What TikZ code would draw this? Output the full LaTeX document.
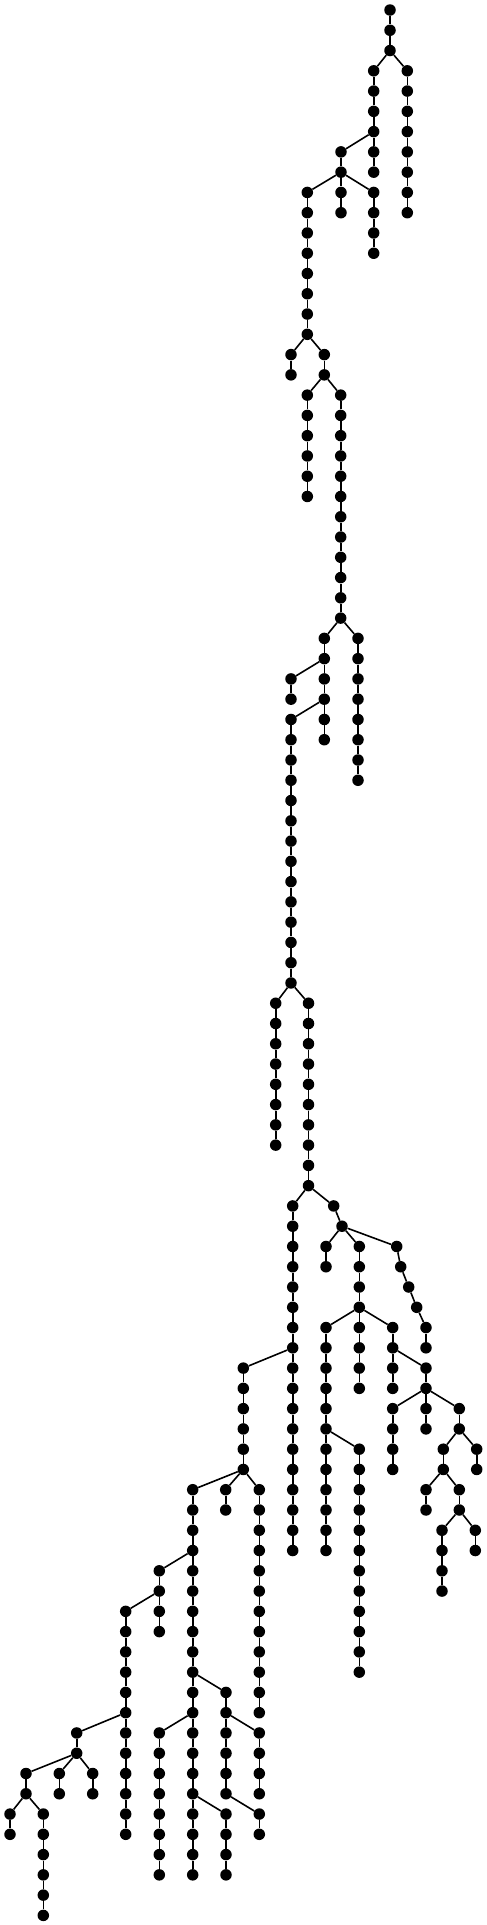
\documentclass[tikz,border=0pt]{standalone}
\usepackage{tikz}
\tikzset{
  treedot/.style={circle,fill=black,draw=none,inner sep=0pt,minimum size=11.5pt},
  treeedge/.style={line width=1.6pt,black}
}
\newcommand\mkchain[5]{%
  \foreach \l in {#3,...,#4}{\node[treedot] (#1-\l) at (#2,{-10-20.27*\l}) {};}
  \pgfmathtruncatemacro\mychs{#3+1}%
  \foreach \l [remember=\l as \lp (initially #3)] in {\mychs,...,#4}{\draw[treeedge] (#1-\lp) -- (#1-\l);}
  \ifx\relax#5\relax\else\draw[treeedge] (#5) -- (#1-#3);\fi
}
\begin{document}
\begin{tikzpicture}[x=1pt,y=1pt]
\useasboundingbox (0,0) rectangle (487,-1925);
\mkchain{A}{390}{0}{2}{}
\mkchain{B}{407.3}{3}{10}{A-2}
\mkchain{C}{373.7}{3}{8}{A-2}
\mkchain{D}{341}{7}{8}{C-6}
\mkchain{E}{307.3}{9}{16}{D-8}
\mkchain{F}{341}{9}{10}{D-8}
\mkchain{G}{373.7}{9}{12}{D-8}
\mkchain{H}{291}{17}{18}{E-16}
\mkchain{I}{324.3}{17}{18}{E-16}
\mkchain{J}{307.3}{19}{24}{I-18}
\mkchain{K}{340.7}{19}{30}{I-18}
\mkchain{L}{324.3}{31}{36}{K-30}
\mkchain{M}{358}{31}{38}{K-30}
\mkchain{N}{291}{33}{34}{L-32}
\mkchain{O}{291}{35}{48}{L-34}
\mkchain{P}{275.7}{49}{56}{O-48}
\mkchain{Q}{308.5}{49}{58}{O-48}
\mkchain{R}{292.7}{59}{76}{Q-58}
% S: short bent chain
\node[treedot] (S-59) at (333.7,{-10-20.27*59}) {};
\node[treedot] (S-60) at (342,{-10-20.27*60}) {};
\draw[treeedge] (Q-58) -- (S-59);
\draw[treeedge] (S-59) -- (S-60);
\mkchain{T}{326}{61}{62}{S-60}
\mkchain{U}{359.3}{61}{68}{S-60}
% V: slanted chain
\node[treedot] (V-61) at (396.7,{-10-20.27*61}) {};
\node[treedot] (V-62) at (400.7,{-10-20.27*62}) {};
\node[treedot] (V-63) at (408.7,{-10-20.27*63}) {};
\node[treedot] (V-64) at (416.7,{-10-20.27*64}) {};
\node[treedot] (V-65) at (426,{-10-20.27*65}) {};
\node[treedot] (V-66) at (426,{-10-20.27*66}) {};
\draw[treeedge] (S-60) -- (V-61);
\draw[treeedge] (V-61) -- (V-62);
\draw[treeedge] (V-62) -- (V-63);
\draw[treeedge] (V-63) -- (V-64);
\draw[treeedge] (V-64) -- (V-65);
\draw[treeedge] (V-65) -- (V-66);
\mkchain{W}{326}{65}{76}{U-64}
\mkchain{X}{392.7}{65}{68}{U-64}
\mkchain{Y}{359.3}{71}{82}{W-70}
\mkchain{Z}{426}{67}{68}{X-66}
\mkchain{Za}{392.7}{69}{72}{Z-68}
\mkchain{Zb}{426}{69}{70}{Z-68}
\mkchain{Zc}{459.3}{69}{70}{Z-68}
\mkchain{Zd}{476.7}{71}{72}{Zc-70}
\mkchain{Ze}{443.3}{71}{72}{Zc-70}
\mkchain{Zf}{426}{73}{74}{Ze-72}
\mkchain{Zg}{459.3}{73}{74}{Ze-72}
\mkchain{Zh}{442}{75}{78}{Zg-74}
\mkchain{Zi}{475.3}{75}{76}{Zg-74}
\mkchain{AA}{243.3}{67}{72}{R-66}
\mkchain{AB}{192.7}{73}{92}{AA-72}
\mkchain{AC}{225.7}{73}{74}{AA-72}
\mkchain{AD}{259.3}{73}{84}{AA-72}
\mkchain{AE}{159.3}{77}{80}{AB-76}
\mkchain{AF}{125.7}{79}{90}{AE-78}
\mkchain{AG}{226}{83}{88}{AB-82}
\mkchain{AH}{159.3}{85}{92}{AB-84}
\mkchain{AI}{226}{89}{92}{AB-88}
\mkchain{AJ}{259.3}{85}{88}{AG-84}
\mkchain{AK}{259.3}{89}{90}{AG-88}
\mkchain{AL}{76.7}{85}{86}{AF-84}
\mkchain{AM}{26}{87}{88}{AL-86}
\mkchain{AN}{10}{89}{90}{AM-88}
\mkchain{AO}{43.3}{89}{94}{AM-88}
\mkchain{AP}{59.3}{87}{88}{AL-86}
\mkchain{AQ}{92.7}{87}{88}{AL-86}
\end{tikzpicture}
\end{document}
